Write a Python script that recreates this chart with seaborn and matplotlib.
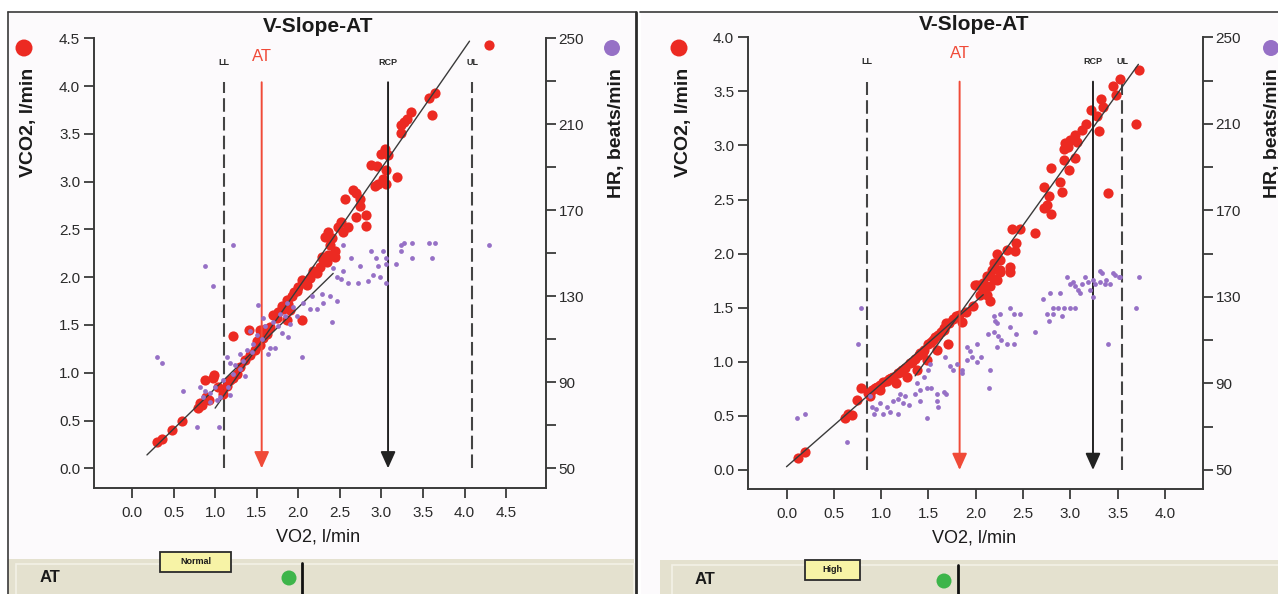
import matplotlib
matplotlib.use("Agg")
import matplotlib.pyplot as plt
import seaborn as sns
from matplotlib.patches import Rectangle, Ellipse
from matplotlib.lines import Line2D
from matplotlib.ticker import FormatStrFormatter, FixedLocator

W, H = 1278, 594

# ---------------- data: left panel ----------------
L_vco2_x = [4.29, 3.65, 3.57, 3.61, 3.36, 3.31, 3.27, 3.23, 3.24, 3.04, 2.99, 3.08, 2.88, 2.95, 3.05, 3.19,
            3.02, 2.96, 3.06, 2.92, 2.66, 2.56, 2.74, 2.70, 2.74, 2.82, 2.70, 2.82, 2.52, 2.60, 2.48, 2.54,
            2.36, 2.40, 2.32, 2.38, 2.44, 2.36, 2.30, 2.29, 2.44,
            2.34, 2.26, 2.22, 2.14, 2.04, 2.10, 1.98, 1.92, 1.86, 1.82, 1.76, 1.90, 1.86, 2.04, 1.74, 1.66,
            1.62, 1.54, 1.58, 1.21, 1.54, 1.48, 1.42, 1.36, 1.30, 1.26, 1.18, 0.98, 0.88, 1.04, 1.10, 0.89,
            0.82, 0.80, 0.60, 0.48, 0.36, 0.30,
            2.18, 2.08, 2.00, 1.95, 1.88, 1.80, 1.70, 1.60, 1.50, 1.41, 0.99, 0.84, 0.93, 1.14, 1.22]
L_vco2_y = [4.43, 3.93, 3.88, 3.70, 3.73, 3.66, 3.62, 3.59, 3.51, 3.34, 3.29, 3.28, 3.17, 3.16, 3.12, 3.05,
            3.03, 2.98, 2.98, 2.95, 2.91, 2.82, 2.82, 2.88, 2.74, 2.65, 2.63, 2.54, 2.58, 2.53, 2.53, 2.47,
            2.47, 2.41, 2.42, 2.34, 2.27, 2.23, 2.18, 2.21, 2.21,
            2.16, 2.11, 2.04, 1.99, 1.97, 1.92, 1.86, 1.80, 1.76, 1.67, 1.64, 1.66, 1.55, 1.55, 1.57, 1.48,
            1.41, 1.45, 1.36, 1.38, 1.29, 1.24, 1.19, 1.13, 1.06, 0.99, 0.92, 0.94, 0.92, 0.85, 0.78, 0.75,
            0.68, 0.63, 0.49, 0.40, 0.31, 0.28,
            2.06, 1.95, 1.90, 1.84, 1.72, 1.70, 1.60, 1.46, 1.33, 1.45, 0.98, 0.66, 0.72, 0.86, 0.95]

L_hr_x = [1.21, 0.88, 0.98, 0.30, 0.36, 0.61, 0.78, 1.05, 1.52, 1.58, 2.04, 2.40, 1.14, 1.42,
          1.30, 1.38, 1.34, 1.66, 1.72, 1.64, 1.18, 1.22, 1.30, 1.36,
          0.82, 0.88, 0.94, 1.00, 1.06, 1.02, 0.94, 1.16, 1.18, 0.86,
          1.86, 1.94, 2.06, 2.14, 2.22, 2.28, 2.38, 2.46, 2.30, 2.16, 1.90, 1.76, 1.80, 1.88, 1.84, 1.98,
          2.42, 2.54, 2.64, 2.74, 2.60, 2.72, 2.84, 2.88, 2.94, 3.02, 3.06, 3.18, 2.96, 2.54, 2.46, 2.52,
          3.23, 3.27, 3.37, 3.57, 3.65, 3.37, 3.61, 3.23, 4.29, 3.06, 2.90, 2.98, 3.05,
          1.10, 1.24, 1.46, 1.50, 1.56, 1.60, 1.70, 1.78, 1.44]
L_hr_y = [154, 144, 135, 102, 99, 86, 69, 69, 126, 120, 102, 118, 102, 114,
          103, 105, 100, 106, 106, 103, 99, 94, 96, 93,
          88, 86, 85, 88, 83, 82, 81, 88, 84, 83,
          127, 125, 127, 124, 124, 131, 130, 128, 127, 130, 117, 116, 113, 111, 121, 121,
          143, 142, 148, 144, 136, 136, 137, 151, 148, 151, 145, 145, 144, 154, 139, 138,
          154, 155, 155, 155, 155, 148, 148, 151, 154, 148, 140, 139, 136,
          91, 98, 108, 112, 110, 116, 118, 122, 104]

L_fit1_x = [0.18, 2.42]
L_fit1_y = [0.14, 2.04]
L_fit2_x = [1.00, 4.06]
L_fit2_y = [0.63, 4.47]
L_markers = {"LL": 1.11, "AT": 1.56, "RCP": 3.08, "UL": 4.09}
L_xticks = [0.0, 0.5, 1.0, 1.5, 2.0, 2.5, 3.0, 3.5, 4.0, 4.5]
L_yticks = [0.0, 0.5, 1.0, 1.5, 2.0, 2.5, 3.0, 3.5, 4.0, 4.5]

# ---------------- data: right panel ----------------
R_vco2_x = [3.73, 3.53, 3.45, 3.48, 3.69, 3.32, 3.35, 3.22, 3.28, 3.30, 3.17, 3.12, 3.05, 3.00, 2.94, 2.93,
            2.98, 3.07, 3.05, 2.93, 2.99, 2.80, 2.89, 2.91, 2.72, 3.40, 2.77, 2.75, 2.72, 2.80, 2.38, 2.47,
            2.63, 2.43, 2.42, 2.33, 2.22, 2.26, 2.19, 2.36, 2.26, 2.17, 2.22, 2.01, 2.08,
            0.12, 0.20, 0.62, 0.65, 0.69, 0.74, 0.79, 0.86, 0.94, 0.99, 1.06, 1.13, 1.20, 1.25, 1.31, 1.36,
            1.41, 1.45, 1.50, 1.55, 1.60, 1.66, 1.69, 1.76, 1.82, 1.85, 1.71, 1.97, 1.90, 2.05, 2.08, 2.15,
            1.99, 2.12, 2.19, 2.26, 2.36, 1.16, 1.27, 1.38, 1.48, 1.59, 0.99, 0.88,
            1.02, 1.10, 1.18, 1.22, 1.33, 1.40, 1.44, 1.53, 1.57, 1.63, 1.67, 1.72, 1.79, 0.90, 0.96, 1.08,
            2.15, 2.12]
R_vco2_y = [3.70, 3.61, 3.55, 3.47, 3.20, 3.43, 3.36, 3.33, 3.27, 3.13, 3.20, 3.14, 3.10, 3.05, 3.02, 2.97,
            2.99, 3.03, 2.88, 2.87, 2.77, 2.79, 2.66, 2.57, 2.62, 2.56, 2.53, 2.45, 2.42, 2.37, 2.23, 2.23,
            2.19, 2.10, 2.02, 2.03, 2.00, 1.94, 1.91, 1.88, 1.85, 1.85, 1.76, 1.71, 1.73,
            0.11, 0.17, 0.48, 0.52, 0.51, 0.65, 0.76, 0.71, 0.76, 0.79, 0.82, 0.86, 0.91, 0.94, 0.99, 1.03,
            1.08, 1.11, 1.16, 1.20, 1.25, 1.29, 1.36, 1.40, 1.43, 1.37, 1.16, 1.52, 1.46, 1.62, 1.65, 1.56,
            1.71, 1.79, 1.77, 1.83, 1.83, 0.80, 0.86, 0.92, 1.02, 1.11, 0.74, 0.68,
            0.81, 0.85, 0.90, 0.92, 1.00, 1.06, 1.09, 1.18, 1.23, 1.28, 1.31, 1.36, 1.42, 0.74, 0.77, 0.84,
            1.70, 1.62]

R_hr_x = [0.11, 0.20, 0.64, 0.79, 0.76, 0.88, 1.48,
          0.90, 0.95, 0.99, 1.06, 1.13, 1.18, 1.23, 1.29, 1.18, 1.02, 1.09, 0.92, 1.20, 1.25,
          1.36, 1.41, 1.48, 1.53, 1.59, 1.66, 1.69, 1.38, 1.45, 1.50, 1.52, 1.41, 1.59, 1.60,
          1.68, 1.73, 1.80, 1.85, 1.91, 1.96, 2.01, 2.06, 1.76, 1.85, 2.15, 2.14, 1.91, 1.94, 2.01,
          2.19, 2.22, 2.36, 2.40, 2.47, 2.36, 2.43, 2.13, 2.19, 2.24, 2.27, 2.22, 2.33, 2.40, 2.63, 2.20, 2.26,
          2.71, 2.75, 2.77, 2.82, 2.87, 2.93, 3.00, 3.05, 2.82, 2.91, 2.79, 2.89,
          2.96, 3.00, 3.05, 3.08, 3.12, 3.16, 3.19, 3.21, 3.26, 3.31, 3.33, 3.37, 3.42, 3.47, 3.53, 3.73,
          3.69, 3.40, 3.24, 3.10, 3.31, 3.45, 3.03, 3.24, 3.38, 3.51]
R_hr_y = [74, 76, 63, 125, 108, 84, 74,
          79, 78, 81, 79, 82, 83, 81, 80, 76, 76, 77, 76, 85, 84,
          85, 87, 88, 88, 85, 86, 85, 90, 93, 96, 99, 82, 82, 79,
          102, 98, 99, 96, 101, 102, 100, 102, 96, 95, 96, 88, 107, 105, 108,
          121, 118, 125, 122, 122, 116, 113, 113, 114, 112, 110, 107, 108, 108, 114, 119, 122,
          129, 122, 119, 125, 125, 125, 125, 125, 122, 121, 132, 132,
          139, 136, 135, 133, 136, 139, 137, 133, 136, 137, 141, 136, 136, 140, 139, 139,
          125, 108, 130, 132, 142, 141, 137, 138, 138, 139]

R_fit1_x = [0.00, 2.08]
R_fit1_y = [0.03, 1.62]
R_fit2_x = [1.36, 3.72]
R_fit2_y = [0.87, 3.75]
R_markers = {"LL": 0.85, "AT": 1.83, "RCP": 3.24, "UL": 3.55}
R_xticks = [0.0, 0.5, 1.0, 1.5, 2.0, 2.5, 3.0, 3.5, 4.0]
R_yticks = [0.0, 0.5, 1.0, 1.5, 2.0, 2.5, 3.0, 3.5, 4.0]

HR_major = [50, 90, 130, 170, 210, 250]
HR_minor = [70, 110, 150, 190, 230]
status_labels = ["Normal", "High"]

# ---------------- style ----------------
sns.set_theme(style="ticks")
plt.rcParams['font.family'] = ['Liberation Sans', 'DejaVu Sans']

RED = '#EC2A22'
RED_LINE = '#F04A38'
PURPLE = '#9670C6'
DARK = '#2A2A2A'
PANEL_BG = '#FCFAFC'
BEIGE = '#E4E1CF'

fig = plt.figure(figsize=(W / 100, H / 100), dpi=100)
fig.patch.set_facecolor('white')


def fx(x):
    return x / W


def fy(y):
    return 1 - y / H


def rect_px(x0, y0, x1, y1, **kw):
    r = Rectangle((fx(x0), fy(y1)), (x1 - x0) / W, (y1 - y0) / H,
                  transform=fig.transFigure, **kw)
    fig.add_artist(r)


def line_px(xs, ys, **kw):
    fig.add_artist(Line2D([fx(x) for x in xs], [fy(y) for y in ys],
                          transform=fig.transFigure, **kw))


def text_px(x, y, s, **kw):
    fig.text(fx(x), fy(y), s, **kw)


def dot_px(x, y, d, color):
    fig.add_artist(Ellipse((fx(x), fy(y)), d / W, d / H, transform=fig.transFigure,
                           facecolor=color, edgecolor='none', zorder=5))


# panel backgrounds & frames
rect_px(8, 12, 636, 594, facecolor=PANEL_BG, edgecolor='none', zorder=-5)
rect_px(641, 12, 1278, 594, facecolor=PANEL_BG, edgecolor='none', zorder=-5)
rect_px(8, 559, 634, 594, facecolor=BEIGE, edgecolor='none', zorder=-4)
rect_px(16, 564, 634, 600, facecolor='none', edgecolor='#F3F1E7', lw=1.2, zorder=-3)
rect_px(660, 560, 1278, 594, facecolor=BEIGE, edgecolor='none', zorder=-4)
rect_px(672, 565, 1280, 600, facecolor='none', edgecolor='#F3F1E7', lw=1.2, zorder=-3)
line_px([8, 636], [12, 12], color='#3A3A3A', lw=1.2, zorder=6)
line_px([8, 8], [12, 594], color='#3A3A3A', lw=1.2, zorder=6)
line_px([636, 636], [12, 594], color='#2A2A2A', lw=2.0, zorder=6)
line_px([640, 1278], [12, 12], color='#3A3A3A', lw=1.2, zorder=6)


def draw_panel(ax, vx, vy, hx, hy, f1x, f1y, f2x, f2y, markers, xticks, yticks,
               xlim, ylim, vtop, lab_y, at_y):
    ymax = yticks[-1]
    hr_lo = 50 + ylim[0] * 200.0 / ymax
    ax.set_facecolor('none')
    ax2 = ax.twinx()
    ax2.set_facecolor('none')

    sns.scatterplot(x=vx, y=vy, ax=ax, color=RED, s=54, linewidth=0, legend=False,
                    zorder=3, clip_on=False)
    sns.scatterplot(x=hx, y=hy, ax=ax2, color=PURPLE, s=12, linewidth=0, legend=False,
                    zorder=4)
    sns.lineplot(x=f1x, y=f1y, ax=ax, color='#3A3A3A', lw=1.0, estimator=None,
                 sort=False, zorder=4)
    sns.lineplot(x=f2x, y=f2y, ax=ax, color='#3A3A3A', lw=1.0, estimator=None,
                 sort=False, zorder=4)

    dash = (0, (6.5, 2.5))
    for key in ("LL", "UL"):
        xv = markers[key]
        ax.plot([xv, xv], [0, vtop], color='#444444', lw=1.5, ls=dash, zorder=2)
        ax.text(xv, lab_y, key, ha='center', va='center', fontsize=6.5,
                weight='bold', color=DARK)
    for key, col in (("AT", RED_LINE), ("RCP", '#222222')):
        xv = markers[key]
        ax.annotate('', xy=(xv, 0), xytext=(xv, vtop),
                    arrowprops=dict(arrowstyle='-|>,head_length=1.0,head_width=0.45',
                                    color=col, lw=1.4, shrinkA=0, shrinkB=0,
                                    mutation_scale=10), zorder=5)
    ax.text(markers["RCP"], lab_y, "RCP", ha='center', va='center', fontsize=6.5,
            weight='bold', color=DARK)
    ax.text(markers["AT"], at_y, "AT", ha='center', va='center', fontsize=12,
            color=RED_LINE)

    ax.set_xlim(*xlim)
    ax.set_ylim(*ylim)
    ax2.set_ylim(hr_lo, 250)
    ax.set_xticks(xticks)
    ax.set_yticks(yticks)
    ax.xaxis.set_major_formatter(FormatStrFormatter('%.1f'))
    ax.yaxis.set_major_formatter(FormatStrFormatter('%.1f'))
    ax2.yaxis.set_major_locator(FixedLocator(HR_major))
    ax2.yaxis.set_minor_locator(FixedLocator(HR_minor))
    ax.set_xlabel('')
    ax.set_ylabel('')
    ax2.set_ylabel('')

    for sp in ('top', 'right'):
        ax.spines[sp].set_visible(False)
    for sp in ('top', 'left', 'bottom'):
        ax2.spines[sp].set_visible(False)
    for sp in ('left', 'bottom'):
        ax.spines[sp].set_color('#3A3A3A')
        ax.spines[sp].set_linewidth(1.4)
    ax2.spines['right'].set_color('#3A3A3A')
    ax2.spines['right'].set_linewidth(1.4)

    ax.tick_params(axis='both', which='major', direction='out', length=7, width=1.3,
                   color='#3A3A3A', labelsize=11, labelcolor=DARK, pad=3)
    ax.tick_params(axis='x', pad=6)
    ax2.tick_params(axis='y', which='both', direction='out', length=7, width=1.3,
                    color='#3A3A3A', labelsize=11, labelcolor=DARK, pad=2)
    return ax2


axL = fig.add_axes([94 / W, 1 - 488 / H, (546 - 94) / W, (488 - 38.3) / H])
draw_panel(axL, L_vco2_x, L_vco2_y, L_hr_x, L_hr_y, L_fit1_x, L_fit1_y, L_fit2_x, L_fit2_y,
           L_markers, L_xticks, L_yticks, (-0.457, 4.98), (-0.206, 4.5), 4.04, 4.25, 4.31)

axR = fig.add_axes([748 / W, 1 - 489 / H, (1203 - 748) / W, (489 - 37.3) / H])
draw_panel(axR, R_vco2_x, R_vco2_y, R_hr_x, R_hr_y, R_fit1_x, R_fit1_y, R_fit2_x, R_fit2_y,
           R_markers, R_xticks, R_yticks, (-0.407, 4.403), (-0.176, 4.0), 3.59, 3.78, 3.85)

# panel texts
for (tx, ty, ylx, hlx, rdx, pdx, xlx, xly) in [
        (318, 27, 29, 616, 24, 612, 318, 537),
        (974, 24, 683, 1272, 679, 1271, 974, 538)]:
    text_px(tx, ty, 'V-Slope-AT', ha='center', va='center', fontsize=15, weight='bold',
            color='#1A1A1A')
    text_px(ylx, 122, 'VCO2, l/min', ha='center', va='center', rotation=90, fontsize=14,
            weight='bold', color='#1A1A1A')
    text_px(hlx, 133, 'HR, beats/min', ha='center', va='center', rotation=90, fontsize=14,
            weight='bold', color='#1A1A1A')
    text_px(xlx, xly, 'VO2, l/min', ha='center', va='center', fontsize=13, color='#1A1A1A')
    dot_px(rdx, 48, 17, RED)
    dot_px(pdx, 48, 16, PURPLE)

# status bars
for (atx, aty, bx0, by0, bx1, by1, lab, gx, gy, lx, ly0) in [
        (50, 578, 160, 552, 231, 572, status_labels[0], 289, 578, 302, 563),
        (705, 580, 805, 560, 860, 580, status_labels[1], 944, 581, 958, 565)]:
    text_px(atx, aty, 'AT', ha='center', va='center', fontsize=12, weight='bold',
            color='#1A1A1A')
    rect_px(bx0, by0, bx1, by1, facecolor='#F7F3A6', edgecolor='#2A2A2A', lw=1.3, zorder=6)
    text_px((bx0 + bx1) / 2, (by0 + by1) / 2, lab, ha='center', va='center', fontsize=6.5,
            weight='bold', color='#1A1A1A', zorder=7)
    dot_px(gx, gy, 15, '#3DB54A')
    line_px([lx, lx], [ly0, 594], color='#111111', lw=2.0, zorder=6)

fig.savefig('out.png', dpi=100, facecolor='white')
